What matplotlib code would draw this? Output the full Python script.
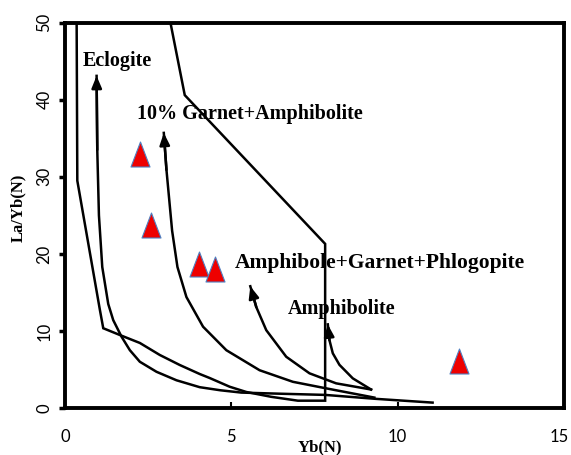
import matplotlib
matplotlib.use("Agg")
import matplotlib.pyplot as plt
import matplotlib.transforms as mtransforms
from matplotlib.path import Path

# ---- data ----
field_x = [0.35, 0.37, 1.05, 1.15, 1.65, 2.25, 2.85, 3.45, 4.05, 4.35, 4.95, 5.45, 6.2, 7.0, 7.82, 7.82, 3.6, 3.17]
field_y = [50.0, 29.5, 12.7, 10.35, 9.47, 8.44, 6.88, 5.58, 4.41, 3.89, 2.76, 2.08, 1.45, 0.95, 0.95, 21.3, 40.6, 50.0]

eclogite_x = [11.05, 9.3, 7.82, 6.5, 5.3, 4.67, 4.05, 3.35, 2.75, 2.25, 1.95, 1.7, 1.45, 1.3, 1.12, 1.02, 0.97, 0.95]
eclogite_y = [0.7, 1.2, 1.7, 1.85, 2.0, 2.3, 2.7, 3.6, 4.7, 6.0, 7.5, 9.25, 11.4, 13.5, 18.3, 25.0, 33.5, 43.1]

garnet10_x = [9.3, 7.85, 6.85, 5.85, 4.85, 4.15, 3.65, 3.38, 3.22, 3.05, 2.97]
garnet10_y = [1.35, 2.55, 3.4, 4.9, 7.5, 10.55, 14.4, 18.3, 23.0, 30.9, 35.7]

agp_x = [9.2, 8.15, 7.35, 6.65, 6.05, 5.75, 5.57]
agp_y = [2.4, 3.2, 4.5, 6.65, 10.1, 13.1, 15.8]

amph_x = [9.2, 8.65, 8.25, 8.05, 7.95, 7.9]
amph_y = [2.4, 3.85, 5.6, 7.1, 8.8, 10.85]

sample_x = [2.25, 2.58, 4.03, 4.5, 11.83]
sample_y = [33.0, 23.8, 18.65, 18.0, 6.1]

labels = ["Eclogite", "10% Garnet+Amphibolite", "Amphibole+Garnet+Phlogopite", "Amphibolite"]
label_x = [0.52, 2.15, 5.1, 6.7]
label_y = [45.0, 38.2, 18.8, 12.8]

x_ticks = [0, 5, 10, 15]
y_ticks = [0, 10, 20, 30, 40, 50]

# ---- figure ----
fig = plt.figure(figsize=(5.71, 4.55), dpi=100)
ax = fig.add_axes([65/571, 1-408/455, 499/571, (408-22.7)/455])
ax.set_xlim(0, 15)
ax.set_ylim(0, 50)

lw = 1.8
ax.plot(field_x, field_y, color='black', lw=lw, solid_joinstyle='miter')

def arrow_curve(xs, ys):
    ax.plot(xs, ys, color='black', lw=lw)
    ax.annotate('', xy=(xs[-1], ys[-1]), xytext=(xs[-2], ys[-2]),
                arrowprops=dict(arrowstyle='-|>,head_length=0.6,head_width=0.25',
                                color='black', lw=lw, shrinkA=0, shrinkB=0,
                                mutation_scale=12))

arrow_curve(eclogite_x, eclogite_y)
arrow_curve(garnet10_x, garnet10_y)
arrow_curve(agp_x, agp_y)
arrow_curve(amph_x, amph_y)

tri = Path([(0, 1), (-0.76, -1), (0.76, -1), (0, 1)],
           [Path.MOVETO, Path.LINETO, Path.LINETO, Path.CLOSEPOLY])
ax.plot(sample_x, sample_y, linestyle='none', marker=tri, markersize=18,
        markerfacecolor='#ee0000', markeredgecolor='#4f7fc0', markeredgewidth=0.8,
        zorder=5)

label_sizes = [14.5, 14.5, 15.5, 14.5]
for t, lx, ly, fs in zip(labels, label_x, label_y, label_sizes):
    ax.text(lx, ly, t, fontsize=fs, fontweight='bold', family='Liberation Serif',
            ha='left', va='center')

for s in ax.spines.values():
    s.set_linewidth(2.8)

ax.set_xticks(x_ticks)
ax.set_yticks(y_ticks)
ax.tick_params(axis='x', direction='in', length=4, width=1.5, pad=15, labelsize=12)
ax.tick_params(axis='y', direction='out', length=4, width=2.5, pad=5, labelsize=12)
ax.set_xticklabels([str(v) for v in x_ticks], family='Lato')
ax.set_yticklabels([str(v) for v in y_ticks], family='Lato', rotation=90, va='center')

# keep the last x tick label inside the picture
last = ax.get_xticklabels()[-1]
last.set_transform(last.get_transform() + mtransforms.ScaledTranslation(-5/100, 0, fig.dpi_scale_trans))

fig.text(320/571, 1-447/455, "Yb(N)", fontsize=12, fontweight='bold',
         family='Liberation Serif', ha='center', va='center')
fig.text(18/571, 1-208/455, "La/Yb(N)", fontsize=12, fontweight='bold',
         family='Liberation Serif', ha='center', va='center', rotation=90)

fig.savefig("out.png", dpi=100)
